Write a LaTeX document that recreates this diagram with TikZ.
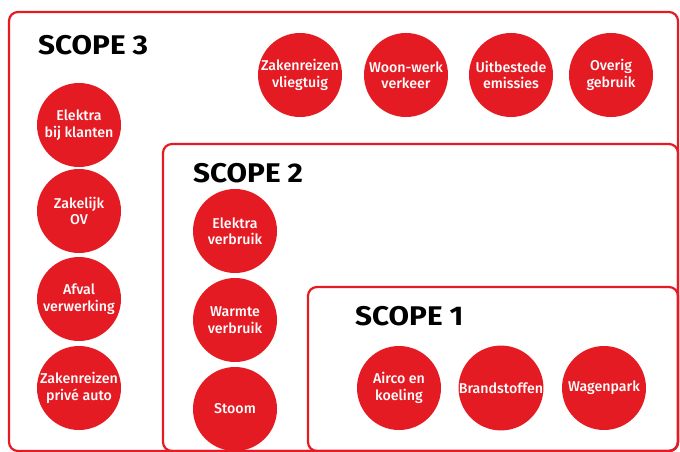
\documentclass[tikz,border=0pt]{standalone}
\usepackage{fontspec}
\setmainfont{Fira Sans}
\newfontfamily\medfont{Fira Sans Medium}
\newfontfamily\titlefont{Fira Sans Bold}[FakeStretch=1.1]
\definecolor{scred}{HTML}{E41B23}
\begin{document}
\begin{tikzpicture}[x=1pt,y=-1pt,
  scopebox/.style={draw=scred,line width=2.2pt,rounded corners=9pt},
  em/.style={circle,fill=scred,minimum size=84pt,inner sep=0pt,text=white,
    align=center,font=\medfont\fontsize{14.2}{16.5}\selectfont},
  title/.style={anchor=base west,font=\titlefont\fontsize{27}{30}\selectfont,text=black,inner sep=0pt}]
\useasboundingbox (0,0) rectangle (680,452);
\draw[scopebox] (9,12) rectangle (678,451);
\draw[scopebox] (163,144) rectangle (678,451);
\draw[scopebox] (308,287) rectangle (678,451);
\node[title] (t3) at (38,55) {SCOPE 3};
\node[title] (t2) at (193,182) {SCOPE 2};
\node[title] (t1) at (355,325) {SCOPE 1};
% scope 3
\node[em] (zv) at (300,75) {Zakenreizen\\vliegtuig};
\node[em] (ww) at (406,75) {Woon-werk\\verkeer};
\node[em] (ue) at (511,75) {Uitbestede\\emissies};
\node[em] (og) at (611,75) {Overig\\gebruik};
\node[em] (ek) at (79,125) {Elektra\\bij klanten};
\node[em] (zo) at (79,211) {Zakelijk\\OV};
\node[em] (av) at (79,299) {Afval\\verwerking};
\node[em] (zp) at (79,388) {Zakenreizen\\privé auto};
% scope 2
\node[em] (ev) at (235,231) {Elektra\\verbruik};
\node[em] (wv) at (235,320) {Warmte\\verbruik};
\node[em] (st) at (235,409) {Stoom};
% scope 1
\node[em] (ak) at (399,388) {Airco en\\koeling};
\node[em] (bs) at (501,388) {Brandstoffen};
\node[em] (wp) at (604,388) {Wagenpark};
\end{tikzpicture}
\end{document}
